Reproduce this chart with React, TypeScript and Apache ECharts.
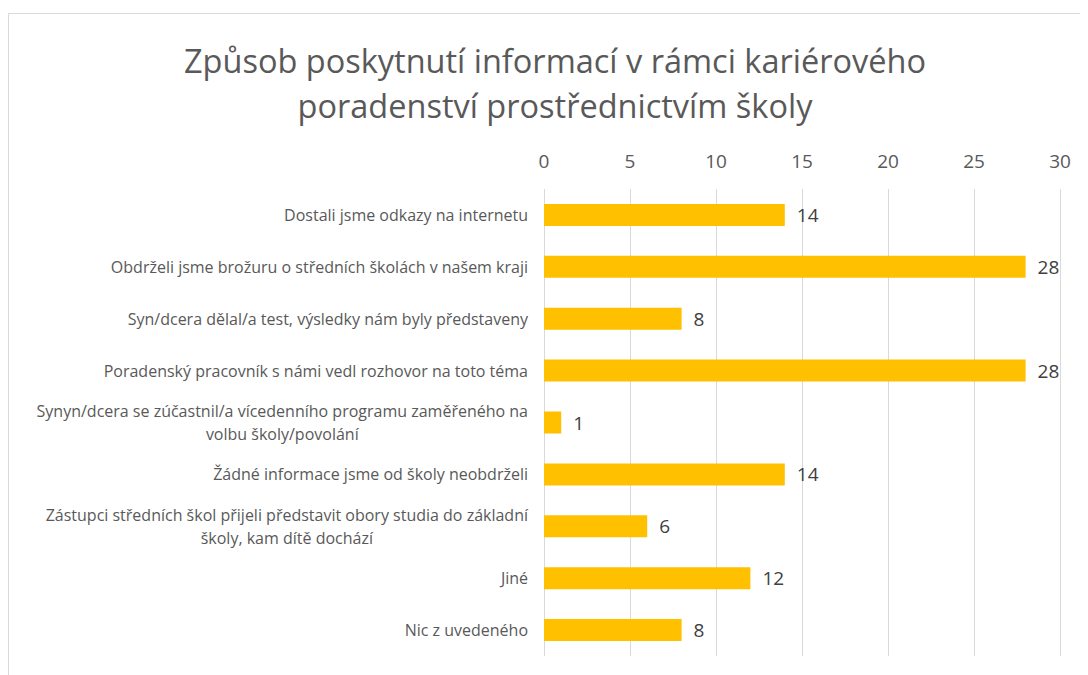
import React, { useEffect, useRef } from "react";
import * as echarts from "echarts";

const titleLines = [
  "Způsob poskytnutí informací v rámci kariérového",
  "poradenství prostřednictvím školy",
];

const categories = [
  "Dostali jsme odkazy na internetu",
  "Obdrželi jsme brožuru o středních školách v našem kraji",
  "Syn/dcera dělal/a test, výsledky nám byly představeny",
  "Poradenský pracovník s námi vedl rozhovor na toto téma",
  "Synyn/dcera se zúčastnil/a vícedenního programu zaměřeného na\nvolbu školy/povolání",
  "Žádné informace jsme od školy neobdrželi",
  "Zástupci středních škol přijeli představit obory studia do základní\nškoly, kam dítě dochází",
  "Jiné",
  "Nic z uvedeného",
];

const values = [14, 28, 8, 28, 1, 14, 6, 12, 8];

const FONT = "'Open Sans', sans-serif";

export default function App() {
  const ref = useRef<HTMLDivElement>(null);
  useEffect(() => {
    if (!ref.current) return;
    const chart = echarts.init(ref.current, undefined, { renderer: "svg" });
    chart.setOption({
      animation: false,
      backgroundColor: "#ffffff",
      textStyle: { fontFamily: FONT },
      title: {
        text: titleLines.join("\n"),
        left: 547,
        top: 30,
        padding: 0,
        textAlign: "center",
        textStyle: {
          fontFamily: FONT,
          fontSize: 32.5,
          fontWeight: "normal",
          color: "#595959",
          lineHeight: 45,
        },
      },
      graphic: [
        {
          type: "rect",
          shape: { x: 0.5, y: 5.5, width: 1200, height: 800 },
          style: { fill: "none", stroke: "#d9d9d9", lineWidth: 1 },
          silent: true,
        },
      ],
      grid: { left: 536, right: 28, top: 181, bottom: 19, containLabel: false },
      xAxis: {
        type: "value",
        position: "top",
        min: 0,
        max: 30,
        interval: 5,
        axisLine: { show: false },
        axisTick: { show: false },
        axisLabel: {
          fontFamily: FONT,
          fontSize: 19,
          color: "#595959",
          margin: 19,
        },
        splitLine: { show: true, lineStyle: { color: "#d9d9d9", width: 1 } },
      },
      yAxis: {
        type: "category",
        inverse: true,
        data: categories,
        axisLine: { show: false },
        axisTick: { show: false },
        axisLabel: {
          fontFamily: FONT,
          fontSize: 16,
          color: "#595959",
          margin: 16,
          lineHeight: 23,
          formatter: (v: string) =>
            v
              .split("\n")
              .map((l) => "{a|" + l + "}")
              .join("\n"),
          rich: {
            a: {
              fontFamily: FONT,
              fontSize: 16,
              color: "#595959",
              lineHeight: 23,
              align: "center",
            },
          },
        },
      },
      series: [
        {
          type: "bar",
          data: values,
          barWidth: 22,
          itemStyle: { color: "#FFC000" },
          label: {
            show: true,
            position: "right",
            distance: 12,
            fontFamily: FONT,
            fontSize: 19,
            color: "#404040",
          },
        },
      ],
    });
    return () => chart.dispose();
  }, []);
  return <div ref={ref} style={{ width: 1080, height: 667 }} />;
}
